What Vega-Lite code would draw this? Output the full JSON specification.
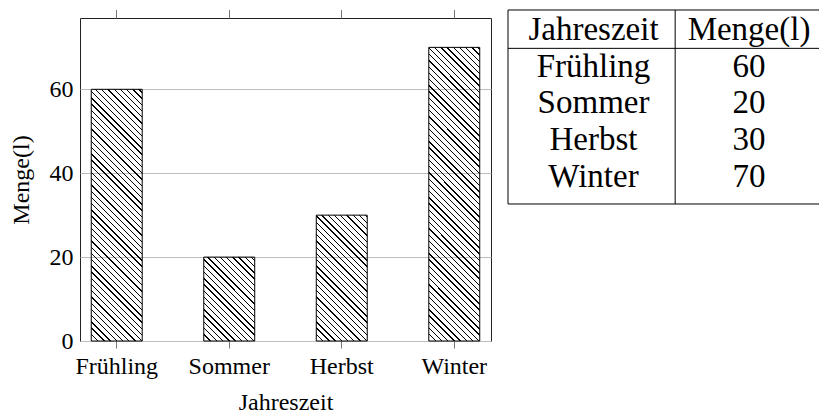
{
"$schema": "https://vega.github.io/schema/vega-lite/v6.json",
"padding": {"left": 8, "top": 8, "right": 0, "bottom": 0},
"spacing": 15,
"datasets": {
 "werte": [
  {"Jahreszeit": "Frühling", "Menge": 60},
  {"Jahreszeit": "Sommer", "Menge": 20},
  {"Jahreszeit": "Herbst", "Menge": 30},
  {"Jahreszeit": "Winter", "Menge": 70}
 ],
 "tabelle": [
  {"Zeile": "Kopf", "Spalte": "Jahreszeit", "Wert": "Jahreszeit"},
  {"Zeile": "Kopf", "Spalte": "Menge", "Wert": "Menge(l)"},
  {"Zeile": "Frühling", "Spalte": "Jahreszeit", "Wert": "Frühling"},
  {"Zeile": "Frühling", "Spalte": "Menge", "Wert": "60"},
  {"Zeile": "Sommer", "Spalte": "Jahreszeit", "Wert": "Sommer"},
  {"Zeile": "Sommer", "Spalte": "Menge", "Wert": "20"},
  {"Zeile": "Herbst", "Spalte": "Jahreszeit", "Wert": "Herbst"},
  {"Zeile": "Herbst", "Spalte": "Menge", "Wert": "30"},
  {"Zeile": "Winter", "Spalte": "Jahreszeit", "Wert": "Winter"},
  {"Zeile": "Winter", "Spalte": "Menge", "Wert": "70"}
 ],
 "linie": [{"Tabelle": "Jahreszeit"}]
},
"config": {"view": {"stroke": null}, "font": "Liberation Serif", "text": {"font": "Liberation Serif"}, "mark": {"font": "Liberation Serif"}},
"hconcat": [
 {
  "data": {"name": "werte"},
  "width": 411, "height": 323,
  "view": {"stroke": "#222", "strokeWidth": 1},
  "layer": [
   {
    "mark": {"type": "bar", "stroke": "#000", "strokeWidth": 1},
    "encoding": {
     "x": {"field": "Jahreszeit", "type": "nominal", "sort": null,
      "scale": {"domain": ["Frühling", "Sommer", "Herbst", "Winter"], "paddingInner": 0.547, "paddingOuter": 0.1},
      "axis": {"orient": "bottom", "domain": false, "ticks": true, "tickSize": 7, "tickColor": "#777", "tickWidth": 1, "labelAngle": 0, "labelFont": "Liberation Serif", "labelFontSize": 24, "labelColor": "#000", "labelPadding": 6, "title": "Jahreszeit", "titleFont": "Liberation Serif", "titleFontSize": 24, "titleFontWeight": "normal", "titleColor": "#000", "titlePadding": 12, "grid": false}},
     "y": {"field": "Menge", "type": "quantitative",
      "scale": {"domain": [0, 77], "nice": false},
      "axis": {"values": [0, 20, 40, 60], "grid": true, "gridColor": "#bdbdbd", "gridWidth": 1, "domain": false, "ticks": false, "labelFont": "Liberation Serif", "labelFontSize": 24, "labelColor": "#000", "labelPadding": 7, "labelFlush": false, "title": "Menge(l)", "titleFont": "Liberation Serif", "titleFontSize": 24, "titleFontWeight": "normal", "titleColor": "#000", "titlePadding": 16}},
     "fill": {
      "condition": [
       {"test": "datum.Jahreszeit === 'Frühling'", "value": {"gradient": "linear", "x1": 0, "y1": 1, "x2": 0.4812, "y2": -1.3748, "stops": [
{"offset":0.01,"color":"transparent"},{"offset":0.01,"color":"#000"},{"offset":0.0122,"color":"#000"},{"offset":0.0122,"color":"transparent"},
{"offset":0.02,"color":"transparent"},{"offset":0.02,"color":"#000"},{"offset":0.0222,"color":"#000"},{"offset":0.0222,"color":"transparent"},
{"offset":0.03,"color":"transparent"},{"offset":0.03,"color":"#000"},{"offset":0.0322,"color":"#000"},{"offset":0.0322,"color":"transparent"},
{"offset":0.04,"color":"transparent"},{"offset":0.04,"color":"#000"},{"offset":0.0422,"color":"#000"},{"offset":0.0422,"color":"transparent"},
{"offset":0.05,"color":"transparent"},{"offset":0.05,"color":"#000"},{"offset":0.0522,"color":"#000"},{"offset":0.0522,"color":"transparent"},
{"offset":0.06,"color":"transparent"},{"offset":0.06,"color":"#000"},{"offset":0.0622,"color":"#000"},{"offset":0.0622,"color":"transparent"},
{"offset":0.07,"color":"transparent"},{"offset":0.07,"color":"#000"},{"offset":0.0722,"color":"#000"},{"offset":0.0722,"color":"transparent"},
{"offset":0.08,"color":"transparent"},{"offset":0.08,"color":"#000"},{"offset":0.0822,"color":"#000"},{"offset":0.0822,"color":"transparent"},
{"offset":0.09,"color":"transparent"},{"offset":0.09,"color":"#000"},{"offset":0.0922,"color":"#000"},{"offset":0.0922,"color":"transparent"},
{"offset":0.10,"color":"transparent"},{"offset":0.10,"color":"#000"},{"offset":0.1022,"color":"#000"},{"offset":0.1022,"color":"transparent"},
{"offset":0.11,"color":"transparent"},{"offset":0.11,"color":"#000"},{"offset":0.1122,"color":"#000"},{"offset":0.1122,"color":"transparent"},
{"offset":0.12,"color":"transparent"},{"offset":0.12,"color":"#000"},{"offset":0.1222,"color":"#000"},{"offset":0.1222,"color":"transparent"},
{"offset":0.13,"color":"transparent"},{"offset":0.13,"color":"#000"},{"offset":0.1322,"color":"#000"},{"offset":0.1322,"color":"transparent"},
{"offset":0.14,"color":"transparent"},{"offset":0.14,"color":"#000"},{"offset":0.1422,"color":"#000"},{"offset":0.1422,"color":"transparent"},
{"offset":0.15,"color":"transparent"},{"offset":0.15,"color":"#000"},{"offset":0.1522,"color":"#000"},{"offset":0.1522,"color":"transparent"},
{"offset":0.16,"color":"transparent"},{"offset":0.16,"color":"#000"},{"offset":0.1622,"color":"#000"},{"offset":0.1622,"color":"transparent"},
{"offset":0.17,"color":"transparent"},{"offset":0.17,"color":"#000"},{"offset":0.1722,"color":"#000"},{"offset":0.1722,"color":"transparent"},
{"offset":0.18,"color":"transparent"},{"offset":0.18,"color":"#000"},{"offset":0.1822,"color":"#000"},{"offset":0.1822,"color":"transparent"},
{"offset":0.19,"color":"transparent"},{"offset":0.19,"color":"#000"},{"offset":0.1922,"color":"#000"},{"offset":0.1922,"color":"transparent"},
{"offset":0.20,"color":"transparent"},{"offset":0.20,"color":"#000"},{"offset":0.2022,"color":"#000"},{"offset":0.2022,"color":"transparent"},
{"offset":0.21,"color":"transparent"},{"offset":0.21,"color":"#000"},{"offset":0.2122,"color":"#000"},{"offset":0.2122,"color":"transparent"},
{"offset":0.22,"color":"transparent"},{"offset":0.22,"color":"#000"},{"offset":0.2222,"color":"#000"},{"offset":0.2222,"color":"transparent"},
{"offset":0.23,"color":"transparent"},{"offset":0.23,"color":"#000"},{"offset":0.2322,"color":"#000"},{"offset":0.2322,"color":"transparent"},
{"offset":0.24,"color":"transparent"},{"offset":0.24,"color":"#000"},{"offset":0.2422,"color":"#000"},{"offset":0.2422,"color":"transparent"},
{"offset":0.25,"color":"transparent"},{"offset":0.25,"color":"#000"},{"offset":0.2522,"color":"#000"},{"offset":0.2522,"color":"transparent"},
{"offset":0.26,"color":"transparent"},{"offset":0.26,"color":"#000"},{"offset":0.2622,"color":"#000"},{"offset":0.2622,"color":"transparent"},
{"offset":0.27,"color":"transparent"},{"offset":0.27,"color":"#000"},{"offset":0.2722,"color":"#000"},{"offset":0.2722,"color":"transparent"},
{"offset":0.28,"color":"transparent"},{"offset":0.28,"color":"#000"},{"offset":0.2822,"color":"#000"},{"offset":0.2822,"color":"transparent"},
{"offset":0.29,"color":"transparent"},{"offset":0.29,"color":"#000"},{"offset":0.2922,"color":"#000"},{"offset":0.2922,"color":"transparent"},
{"offset":0.30,"color":"transparent"},{"offset":0.30,"color":"#000"},{"offset":0.3022,"color":"#000"},{"offset":0.3022,"color":"transparent"},
{"offset":0.31,"color":"transparent"},{"offset":0.31,"color":"#000"},{"offset":0.3122,"color":"#000"},{"offset":0.3122,"color":"transparent"},
{"offset":0.32,"color":"transparent"},{"offset":0.32,"color":"#000"},{"offset":0.3222,"color":"#000"},{"offset":0.3222,"color":"transparent"},
{"offset":0.33,"color":"transparent"},{"offset":0.33,"color":"#000"},{"offset":0.3322,"color":"#000"},{"offset":0.3322,"color":"transparent"},
{"offset":0.34,"color":"transparent"},{"offset":0.34,"color":"#000"},{"offset":0.3422,"color":"#000"},{"offset":0.3422,"color":"transparent"},
{"offset":0.35,"color":"transparent"},{"offset":0.35,"color":"#000"},{"offset":0.3522,"color":"#000"},{"offset":0.3522,"color":"transparent"},
{"offset":0.36,"color":"transparent"},{"offset":0.36,"color":"#000"},{"offset":0.3622,"color":"#000"},{"offset":0.3622,"color":"transparent"},
{"offset":0.37,"color":"transparent"},{"offset":0.37,"color":"#000"},{"offset":0.3722,"color":"#000"},{"offset":0.3722,"color":"transparent"},
{"offset":0.38,"color":"transparent"},{"offset":0.38,"color":"#000"},{"offset":0.3822,"color":"#000"},{"offset":0.3822,"color":"transparent"},
{"offset":0.39,"color":"transparent"},{"offset":0.39,"color":"#000"},{"offset":0.3922,"color":"#000"},{"offset":0.3922,"color":"transparent"},
{"offset":0.40,"color":"transparent"},{"offset":0.40,"color":"#000"},{"offset":0.4022,"color":"#000"},{"offset":0.4022,"color":"transparent"},
{"offset":0.41,"color":"transparent"},{"offset":0.41,"color":"#000"},{"offset":0.4122,"color":"#000"},{"offset":0.4122,"color":"transparent"},
{"offset":0.42,"color":"transparent"},{"offset":0.42,"color":"#000"},{"offset":0.4222,"color":"#000"},{"offset":0.4222,"color":"transparent"},
{"offset":0.43,"color":"transparent"},{"offset":0.43,"color":"#000"},{"offset":0.4322,"color":"#000"},{"offset":0.4322,"color":"transparent"},
{"offset":0.44,"color":"transparent"},{"offset":0.44,"color":"#000"},{"offset":0.4422,"color":"#000"},{"offset":0.4422,"color":"transparent"},
{"offset":0.45,"color":"transparent"},{"offset":0.45,"color":"#000"},{"offset":0.4522,"color":"#000"},{"offset":0.4522,"color":"transparent"},
{"offset":0.46,"color":"transparent"},{"offset":0.46,"color":"#000"},{"offset":0.4622,"color":"#000"},{"offset":0.4622,"color":"transparent"},
{"offset":0.47,"color":"transparent"},{"offset":0.47,"color":"#000"},{"offset":0.4722,"color":"#000"},{"offset":0.4722,"color":"transparent"},
{"offset":0.48,"color":"transparent"},{"offset":0.48,"color":"#000"},{"offset":0.4822,"color":"#000"},{"offset":0.4822,"color":"transparent"},
{"offset":0.49,"color":"transparent"},{"offset":0.49,"color":"#000"},{"offset":0.4922,"color":"#000"},{"offset":0.4922,"color":"transparent"}
       ]}},
       {"test": "datum.Jahreszeit === 'Sommer'", "value": {"gradient": "linear", "x1": 0, "y1": 1, "x2": 3.2919, "y2": -4.4155, "stops": [
{"offset":0.01,"color":"transparent"},{"offset":0.01,"color":"#000"},{"offset":0.0122,"color":"#000"},{"offset":0.0122,"color":"transparent"},
{"offset":0.02,"color":"transparent"},{"offset":0.02,"color":"#000"},{"offset":0.0222,"color":"#000"},{"offset":0.0222,"color":"transparent"},
{"offset":0.03,"color":"transparent"},{"offset":0.03,"color":"#000"},{"offset":0.0322,"color":"#000"},{"offset":0.0322,"color":"transparent"},
{"offset":0.04,"color":"transparent"},{"offset":0.04,"color":"#000"},{"offset":0.0422,"color":"#000"},{"offset":0.0422,"color":"transparent"},
{"offset":0.05,"color":"transparent"},{"offset":0.05,"color":"#000"},{"offset":0.0522,"color":"#000"},{"offset":0.0522,"color":"transparent"},
{"offset":0.06,"color":"transparent"},{"offset":0.06,"color":"#000"},{"offset":0.0622,"color":"#000"},{"offset":0.0622,"color":"transparent"},
{"offset":0.07,"color":"transparent"},{"offset":0.07,"color":"#000"},{"offset":0.0722,"color":"#000"},{"offset":0.0722,"color":"transparent"},
{"offset":0.08,"color":"transparent"},{"offset":0.08,"color":"#000"},{"offset":0.0822,"color":"#000"},{"offset":0.0822,"color":"transparent"},
{"offset":0.09,"color":"transparent"},{"offset":0.09,"color":"#000"},{"offset":0.0922,"color":"#000"},{"offset":0.0922,"color":"transparent"},
{"offset":0.10,"color":"transparent"},{"offset":0.10,"color":"#000"},{"offset":0.1022,"color":"#000"},{"offset":0.1022,"color":"transparent"},
{"offset":0.11,"color":"transparent"},{"offset":0.11,"color":"#000"},{"offset":0.1122,"color":"#000"},{"offset":0.1122,"color":"transparent"},
{"offset":0.12,"color":"transparent"},{"offset":0.12,"color":"#000"},{"offset":0.1222,"color":"#000"},{"offset":0.1222,"color":"transparent"},
{"offset":0.13,"color":"transparent"},{"offset":0.13,"color":"#000"},{"offset":0.1322,"color":"#000"},{"offset":0.1322,"color":"transparent"},
{"offset":0.14,"color":"transparent"},{"offset":0.14,"color":"#000"},{"offset":0.1422,"color":"#000"},{"offset":0.1422,"color":"transparent"},
{"offset":0.15,"color":"transparent"},{"offset":0.15,"color":"#000"},{"offset":0.1522,"color":"#000"},{"offset":0.1522,"color":"transparent"},
{"offset":0.16,"color":"transparent"},{"offset":0.16,"color":"#000"},{"offset":0.1622,"color":"#000"},{"offset":0.1622,"color":"transparent"},
{"offset":0.17,"color":"transparent"},{"offset":0.17,"color":"#000"},{"offset":0.1722,"color":"#000"},{"offset":0.1722,"color":"transparent"},
{"offset":0.18,"color":"transparent"},{"offset":0.18,"color":"#000"},{"offset":0.1822,"color":"#000"},{"offset":0.1822,"color":"transparent"},
{"offset":0.19,"color":"transparent"},{"offset":0.19,"color":"#000"},{"offset":0.1922,"color":"#000"},{"offset":0.1922,"color":"transparent"},
{"offset":0.20,"color":"transparent"},{"offset":0.20,"color":"#000"},{"offset":0.2022,"color":"#000"},{"offset":0.2022,"color":"transparent"},
{"offset":0.21,"color":"transparent"},{"offset":0.21,"color":"#000"},{"offset":0.2122,"color":"#000"},{"offset":0.2122,"color":"transparent"},
{"offset":0.22,"color":"transparent"},{"offset":0.22,"color":"#000"},{"offset":0.2222,"color":"#000"},{"offset":0.2222,"color":"transparent"}
       ]}},
       {"test": "datum.Jahreszeit === 'Herbst'", "value": {"gradient": "linear", "x1": 0, "y1": 1, "x2": 1.7213, "y2": -3.2472, "stops": [
{"offset":0.01,"color":"transparent"},{"offset":0.01,"color":"#000"},{"offset":0.0122,"color":"#000"},{"offset":0.0122,"color":"transparent"},
{"offset":0.02,"color":"transparent"},{"offset":0.02,"color":"#000"},{"offset":0.0222,"color":"#000"},{"offset":0.0222,"color":"transparent"},
{"offset":0.03,"color":"transparent"},{"offset":0.03,"color":"#000"},{"offset":0.0322,"color":"#000"},{"offset":0.0322,"color":"transparent"},
{"offset":0.04,"color":"transparent"},{"offset":0.04,"color":"#000"},{"offset":0.0422,"color":"#000"},{"offset":0.0422,"color":"transparent"},
{"offset":0.05,"color":"transparent"},{"offset":0.05,"color":"#000"},{"offset":0.0522,"color":"#000"},{"offset":0.0522,"color":"transparent"},
{"offset":0.06,"color":"transparent"},{"offset":0.06,"color":"#000"},{"offset":0.0622,"color":"#000"},{"offset":0.0622,"color":"transparent"},
{"offset":0.07,"color":"transparent"},{"offset":0.07,"color":"#000"},{"offset":0.0722,"color":"#000"},{"offset":0.0722,"color":"transparent"},
{"offset":0.08,"color":"transparent"},{"offset":0.08,"color":"#000"},{"offset":0.0822,"color":"#000"},{"offset":0.0822,"color":"transparent"},
{"offset":0.09,"color":"transparent"},{"offset":0.09,"color":"#000"},{"offset":0.0922,"color":"#000"},{"offset":0.0922,"color":"transparent"},
{"offset":0.10,"color":"transparent"},{"offset":0.10,"color":"#000"},{"offset":0.1022,"color":"#000"},{"offset":0.1022,"color":"transparent"},
{"offset":0.11,"color":"transparent"},{"offset":0.11,"color":"#000"},{"offset":0.1122,"color":"#000"},{"offset":0.1122,"color":"transparent"},
{"offset":0.12,"color":"transparent"},{"offset":0.12,"color":"#000"},{"offset":0.1222,"color":"#000"},{"offset":0.1222,"color":"transparent"},
{"offset":0.13,"color":"transparent"},{"offset":0.13,"color":"#000"},{"offset":0.1322,"color":"#000"},{"offset":0.1322,"color":"transparent"},
{"offset":0.14,"color":"transparent"},{"offset":0.14,"color":"#000"},{"offset":0.1422,"color":"#000"},{"offset":0.1422,"color":"transparent"},
{"offset":0.15,"color":"transparent"},{"offset":0.15,"color":"#000"},{"offset":0.1522,"color":"#000"},{"offset":0.1522,"color":"transparent"},
{"offset":0.16,"color":"transparent"},{"offset":0.16,"color":"#000"},{"offset":0.1622,"color":"#000"},{"offset":0.1622,"color":"transparent"},
{"offset":0.17,"color":"transparent"},{"offset":0.17,"color":"#000"},{"offset":0.1722,"color":"#000"},{"offset":0.1722,"color":"transparent"},
{"offset":0.18,"color":"transparent"},{"offset":0.18,"color":"#000"},{"offset":0.1822,"color":"#000"},{"offset":0.1822,"color":"transparent"},
{"offset":0.19,"color":"transparent"},{"offset":0.19,"color":"#000"},{"offset":0.1922,"color":"#000"},{"offset":0.1922,"color":"transparent"},
{"offset":0.20,"color":"transparent"},{"offset":0.20,"color":"#000"},{"offset":0.2022,"color":"#000"},{"offset":0.2022,"color":"transparent"},
{"offset":0.21,"color":"transparent"},{"offset":0.21,"color":"#000"},{"offset":0.2122,"color":"#000"},{"offset":0.2122,"color":"transparent"},
{"offset":0.22,"color":"transparent"},{"offset":0.22,"color":"#000"},{"offset":0.2222,"color":"#000"},{"offset":0.2222,"color":"transparent"},
{"offset":0.23,"color":"transparent"},{"offset":0.23,"color":"#000"},{"offset":0.2322,"color":"#000"},{"offset":0.2322,"color":"transparent"},
{"offset":0.24,"color":"transparent"},{"offset":0.24,"color":"#000"},{"offset":0.2422,"color":"#000"},{"offset":0.2422,"color":"transparent"},
{"offset":0.25,"color":"transparent"},{"offset":0.25,"color":"#000"},{"offset":0.2522,"color":"#000"},{"offset":0.2522,"color":"transparent"},
{"offset":0.26,"color":"transparent"},{"offset":0.26,"color":"#000"},{"offset":0.2622,"color":"#000"},{"offset":0.2622,"color":"transparent"},
{"offset":0.27,"color":"transparent"},{"offset":0.27,"color":"#000"},{"offset":0.2722,"color":"#000"},{"offset":0.2722,"color":"transparent"},
{"offset":0.28,"color":"transparent"},{"offset":0.28,"color":"#000"},{"offset":0.2822,"color":"#000"},{"offset":0.2822,"color":"transparent"},
{"offset":0.29,"color":"transparent"},{"offset":0.29,"color":"#000"},{"offset":0.2922,"color":"#000"},{"offset":0.2922,"color":"transparent"}
       ]}}
      ],
      "value": {"gradient": "linear", "x1": 0, "y1": 1, "x2": 0.35727, "y2": -1.05704, "stops": [
{"offset":0.01,"color":"transparent"},{"offset":0.01,"color":"#000"},{"offset":0.0122,"color":"#000"},{"offset":0.0122,"color":"transparent"},
{"offset":0.02,"color":"transparent"},{"offset":0.02,"color":"#000"},{"offset":0.0222,"color":"#000"},{"offset":0.0222,"color":"transparent"},
{"offset":0.03,"color":"transparent"},{"offset":0.03,"color":"#000"},{"offset":0.0322,"color":"#000"},{"offset":0.0322,"color":"transparent"},
{"offset":0.04,"color":"transparent"},{"offset":0.04,"color":"#000"},{"offset":0.0422,"color":"#000"},{"offset":0.0422,"color":"transparent"},
{"offset":0.05,"color":"transparent"},{"offset":0.05,"color":"#000"},{"offset":0.0522,"color":"#000"},{"offset":0.0522,"color":"transparent"},
{"offset":0.06,"color":"transparent"},{"offset":0.06,"color":"#000"},{"offset":0.0622,"color":"#000"},{"offset":0.0622,"color":"transparent"},
{"offset":0.07,"color":"transparent"},{"offset":0.07,"color":"#000"},{"offset":0.0722,"color":"#000"},{"offset":0.0722,"color":"transparent"},
{"offset":0.08,"color":"transparent"},{"offset":0.08,"color":"#000"},{"offset":0.0822,"color":"#000"},{"offset":0.0822,"color":"transparent"},
{"offset":0.09,"color":"transparent"},{"offset":0.09,"color":"#000"},{"offset":0.0922,"color":"#000"},{"offset":0.0922,"color":"transparent"},
{"offset":0.10,"color":"transparent"},{"offset":0.10,"color":"#000"},{"offset":0.1022,"color":"#000"},{"offset":0.1022,"color":"transparent"},
{"offset":0.11,"color":"transparent"},{"offset":0.11,"color":"#000"},{"offset":0.1122,"color":"#000"},{"offset":0.1122,"color":"transparent"},
{"offset":0.12,"color":"transparent"},{"offset":0.12,"color":"#000"},{"offset":0.1222,"color":"#000"},{"offset":0.1222,"color":"transparent"},
{"offset":0.13,"color":"transparent"},{"offset":0.13,"color":"#000"},{"offset":0.1322,"color":"#000"},{"offset":0.1322,"color":"transparent"},
{"offset":0.14,"color":"transparent"},{"offset":0.14,"color":"#000"},{"offset":0.1422,"color":"#000"},{"offset":0.1422,"color":"transparent"},
{"offset":0.15,"color":"transparent"},{"offset":0.15,"color":"#000"},{"offset":0.1522,"color":"#000"},{"offset":0.1522,"color":"transparent"},
{"offset":0.16,"color":"transparent"},{"offset":0.16,"color":"#000"},{"offset":0.1622,"color":"#000"},{"offset":0.1622,"color":"transparent"},
{"offset":0.17,"color":"transparent"},{"offset":0.17,"color":"#000"},{"offset":0.1722,"color":"#000"},{"offset":0.1722,"color":"transparent"},
{"offset":0.18,"color":"transparent"},{"offset":0.18,"color":"#000"},{"offset":0.1822,"color":"#000"},{"offset":0.1822,"color":"transparent"},
{"offset":0.19,"color":"transparent"},{"offset":0.19,"color":"#000"},{"offset":0.1922,"color":"#000"},{"offset":0.1922,"color":"transparent"},
{"offset":0.20,"color":"transparent"},{"offset":0.20,"color":"#000"},{"offset":0.2022,"color":"#000"},{"offset":0.2022,"color":"transparent"},
{"offset":0.21,"color":"transparent"},{"offset":0.21,"color":"#000"},{"offset":0.2122,"color":"#000"},{"offset":0.2122,"color":"transparent"},
{"offset":0.22,"color":"transparent"},{"offset":0.22,"color":"#000"},{"offset":0.2222,"color":"#000"},{"offset":0.2222,"color":"transparent"},
{"offset":0.23,"color":"transparent"},{"offset":0.23,"color":"#000"},{"offset":0.2322,"color":"#000"},{"offset":0.2322,"color":"transparent"},
{"offset":0.24,"color":"transparent"},{"offset":0.24,"color":"#000"},{"offset":0.2422,"color":"#000"},{"offset":0.2422,"color":"transparent"},
{"offset":0.25,"color":"transparent"},{"offset":0.25,"color":"#000"},{"offset":0.2522,"color":"#000"},{"offset":0.2522,"color":"transparent"},
{"offset":0.26,"color":"transparent"},{"offset":0.26,"color":"#000"},{"offset":0.2622,"color":"#000"},{"offset":0.2622,"color":"transparent"},
{"offset":0.27,"color":"transparent"},{"offset":0.27,"color":"#000"},{"offset":0.2722,"color":"#000"},{"offset":0.2722,"color":"transparent"},
{"offset":0.28,"color":"transparent"},{"offset":0.28,"color":"#000"},{"offset":0.2822,"color":"#000"},{"offset":0.2822,"color":"transparent"},
{"offset":0.29,"color":"transparent"},{"offset":0.29,"color":"#000"},{"offset":0.2922,"color":"#000"},{"offset":0.2922,"color":"transparent"},
{"offset":0.30,"color":"transparent"},{"offset":0.30,"color":"#000"},{"offset":0.3022,"color":"#000"},{"offset":0.3022,"color":"transparent"},
{"offset":0.31,"color":"transparent"},{"offset":0.31,"color":"#000"},{"offset":0.3122,"color":"#000"},{"offset":0.3122,"color":"transparent"},
{"offset":0.32,"color":"transparent"},{"offset":0.32,"color":"#000"},{"offset":0.3222,"color":"#000"},{"offset":0.3222,"color":"transparent"},
{"offset":0.33,"color":"transparent"},{"offset":0.33,"color":"#000"},{"offset":0.3322,"color":"#000"},{"offset":0.3322,"color":"transparent"},
{"offset":0.34,"color":"transparent"},{"offset":0.34,"color":"#000"},{"offset":0.3422,"color":"#000"},{"offset":0.3422,"color":"transparent"},
{"offset":0.35,"color":"transparent"},{"offset":0.35,"color":"#000"},{"offset":0.3522,"color":"#000"},{"offset":0.3522,"color":"transparent"},
{"offset":0.36,"color":"transparent"},{"offset":0.36,"color":"#000"},{"offset":0.3622,"color":"#000"},{"offset":0.3622,"color":"transparent"},
{"offset":0.37,"color":"transparent"},{"offset":0.37,"color":"#000"},{"offset":0.3722,"color":"#000"},{"offset":0.3722,"color":"transparent"},
{"offset":0.38,"color":"transparent"},{"offset":0.38,"color":"#000"},{"offset":0.3822,"color":"#000"},{"offset":0.3822,"color":"transparent"},
{"offset":0.39,"color":"transparent"},{"offset":0.39,"color":"#000"},{"offset":0.3922,"color":"#000"},{"offset":0.3922,"color":"transparent"},
{"offset":0.40,"color":"transparent"},{"offset":0.40,"color":"#000"},{"offset":0.4022,"color":"#000"},{"offset":0.4022,"color":"transparent"},
{"offset":0.41,"color":"transparent"},{"offset":0.41,"color":"#000"},{"offset":0.4122,"color":"#000"},{"offset":0.4122,"color":"transparent"},
{"offset":0.42,"color":"transparent"},{"offset":0.42,"color":"#000"},{"offset":0.4222,"color":"#000"},{"offset":0.4222,"color":"transparent"},
{"offset":0.43,"color":"transparent"},{"offset":0.43,"color":"#000"},{"offset":0.4322,"color":"#000"},{"offset":0.4322,"color":"transparent"},
{"offset":0.44,"color":"transparent"},{"offset":0.44,"color":"#000"},{"offset":0.4422,"color":"#000"},{"offset":0.4422,"color":"transparent"},
{"offset":0.45,"color":"transparent"},{"offset":0.45,"color":"#000"},{"offset":0.4522,"color":"#000"},{"offset":0.4522,"color":"transparent"},
{"offset":0.46,"color":"transparent"},{"offset":0.46,"color":"#000"},{"offset":0.4622,"color":"#000"},{"offset":0.4622,"color":"transparent"},
{"offset":0.47,"color":"transparent"},{"offset":0.47,"color":"#000"},{"offset":0.4722,"color":"#000"},{"offset":0.4722,"color":"transparent"},
{"offset":0.48,"color":"transparent"},{"offset":0.48,"color":"#000"},{"offset":0.4822,"color":"#000"},{"offset":0.4822,"color":"transparent"},
{"offset":0.49,"color":"transparent"},{"offset":0.49,"color":"#000"},{"offset":0.4922,"color":"#000"},{"offset":0.4922,"color":"transparent"},
{"offset":0.50,"color":"transparent"},{"offset":0.50,"color":"#000"},{"offset":0.5022,"color":"#000"},{"offset":0.5022,"color":"transparent"},
{"offset":0.51,"color":"transparent"},{"offset":0.51,"color":"#000"},{"offset":0.5122,"color":"#000"},{"offset":0.5122,"color":"transparent"},
{"offset":0.52,"color":"transparent"},{"offset":0.52,"color":"#000"},{"offset":0.5222,"color":"#000"},{"offset":0.5222,"color":"transparent"},
{"offset":0.53,"color":"transparent"},{"offset":0.53,"color":"#000"},{"offset":0.5322,"color":"#000"},{"offset":0.5322,"color":"transparent"},
{"offset":0.54,"color":"transparent"},{"offset":0.54,"color":"#000"},{"offset":0.5422,"color":"#000"},{"offset":0.5422,"color":"transparent"},
{"offset":0.55,"color":"transparent"},{"offset":0.55,"color":"#000"},{"offset":0.5522,"color":"#000"},{"offset":0.5522,"color":"transparent"},
{"offset":0.56,"color":"transparent"},{"offset":0.56,"color":"#000"},{"offset":0.5622,"color":"#000"},{"offset":0.5622,"color":"transparent"}
      ]}
     }
    }
   },
   {
    "mark": {"type": "rule", "opacity": 0},
    "encoding": {
     "x": {"field": "Jahreszeit", "type": "nominal", "sort": null,
      "scale": {"domain": ["Frühling", "Sommer", "Herbst", "Winter"], "paddingInner": 0.547, "paddingOuter": 0.1},
      "axis": {"orient": "top", "domain": false, "labels": false, "ticks": true, "tickSize": 8.5, "tickColor": "#777", "tickWidth": 1, "title": null, "grid": false}}
    }
   }
  ],
  "resolve": {"axis": {"x": "independent"}}
 },
 {
  "width": 311, "height": 186,
  "view": {"stroke": null},
  "layer": [
   {
    "data": {"name": "tabelle"},
    "mark": {"type": "text", "font": "Liberation Serif", "fontSize": 33, "color": "#000", "baseline": "middle", "align": "center"},
    "encoding": {
     "x": {"field": "Spalte", "type": "nominal", "sort": null, "bandPosition": 0.55,
      "scale": {"domain": ["Jahreszeit", "Menge"], "paddingInner": 0, "paddingOuter": 0}, "axis": null},
     "y": {"field": "Zeile", "type": "nominal", "sort": null,
      "scale": {"domain": ["Kopf", "Frühling", "Sommer", "Herbst", "Winter"], "range": [-8, 186], "paddingInner": 0, "paddingOuter": 0.143, "align": 0.157}, "axis": null},
     "text": {"field": "Wert"}
    }
   },
   {
    "data": {"name": "linie"},
    "mark": {"type": "rule", "color": "#000", "strokeWidth": 1},
    "encoding": {
     "y": {"datum": "Kopf", "type": "nominal", "bandPosition": -0.045,
      "scale": {"domain": ["Kopf", "Frühling", "Sommer", "Herbst", "Winter"], "range": [-8, 186], "paddingInner": 0, "paddingOuter": 0.143, "align": 0.157}, "axis": null}
    }
   },
   {
    "data": {"name": "linie"},
    "mark": {"type": "rule", "color": "#000", "strokeWidth": 1},
    "encoding": {
     "y": {"datum": "Frühling", "type": "nominal", "bandPosition": 0,
      "scale": {"domain": ["Kopf", "Frühling", "Sommer", "Herbst", "Winter"], "range": [-8, 186], "paddingInner": 0, "paddingOuter": 0.143, "align": 0.157}, "axis": null}
    }
   },
   {
    "data": {"name": "linie"},
    "mark": {"type": "rule", "color": "#000", "strokeWidth": 1},
    "encoding": {
     "y": {"datum": "Winter", "type": "nominal", "bandPosition": 1.241,
      "scale": {"domain": ["Kopf", "Frühling", "Sommer", "Herbst", "Winter"], "range": [-8, 186], "paddingInner": 0, "paddingOuter": 0.143, "align": 0.157}, "axis": null}
    }
   },
   {
    "data": {"name": "linie"},
    "mark": {"type": "rule", "color": "#000", "strokeWidth": 1},
    "encoding": {
     "x": {"datum": "Jahreszeit", "type": "nominal", "bandPosition": 0,
      "scale": {"domain": ["Jahreszeit", "Menge"], "paddingInner": 0, "paddingOuter": 0}, "axis": null},
     "y": {"datum": "Kopf", "type": "nominal", "bandPosition": -0.045,
      "scale": {"domain": ["Kopf", "Frühling", "Sommer", "Herbst", "Winter"], "range": [-8, 186], "paddingInner": 0, "paddingOuter": 0.143, "align": 0.157}, "axis": null},
     "y2": {"datum": "Winter", "bandPosition": 1.241}
    }
   },
   {
    "data": {"name": "linie"},
    "mark": {"type": "rule", "color": "#000", "strokeWidth": 1},
    "encoding": {
     "x": {"datum": "Menge", "type": "nominal", "bandPosition": 0.075,
      "scale": {"domain": ["Jahreszeit", "Menge"], "paddingInner": 0, "paddingOuter": 0}, "axis": null},
     "y": {"datum": "Kopf", "type": "nominal", "bandPosition": -0.045,
      "scale": {"domain": ["Kopf", "Frühling", "Sommer", "Herbst", "Winter"], "range": [-8, 186], "paddingInner": 0, "paddingOuter": 0.143, "align": 0.157}, "axis": null},
     "y2": {"datum": "Winter", "bandPosition": 1.241}
    }
   }
  ]
 }
]
}
